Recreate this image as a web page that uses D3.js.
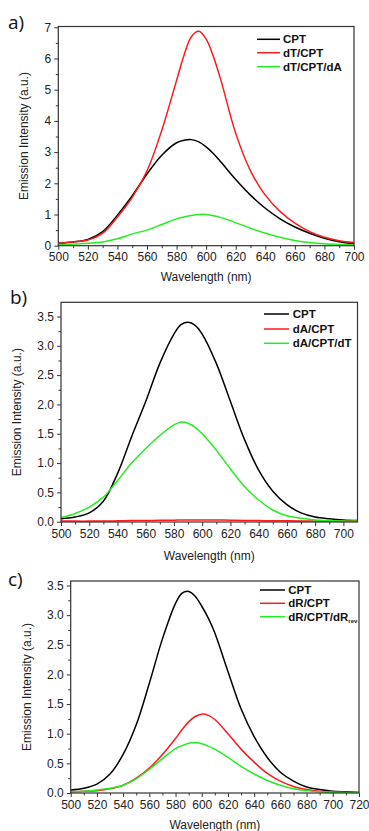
<!DOCTYPE html>
<html><head><meta charset="utf-8">
<script src="https://cdn.jsdelivr.net/npm/d3@7"></script>
<style>body{margin:0;background:#fff}svg{display:block}</style>
</head><body><svg id="c" width="369" height="831"></svg>
<script>
// ---- data (wavelength nm, intensity a.u.) ----
const wlA = [500,510,520,530,540,550,560,570,580,585,590,595,600,605,610,620,630,640,650,660,670,680,690,700];
const aCPT = [0.08,0.12,0.2,0.45,0.98,1.6,2.3,2.9,3.3,3.38,3.4,3.33,3.17,2.95,2.68,2.12,1.62,1.2,0.86,0.6,0.4,0.24,0.13,0.07];
const aDT  = [0.08,0.12,0.18,0.4,0.92,1.55,2.4,3.7,5.3,6.1,6.7,6.87,6.62,6.05,5.3,3.6,2.4,1.62,1.1,0.72,0.45,0.27,0.16,0.1];
const aDTdA= [0.03,0.05,0.08,0.12,0.22,0.38,0.5,0.68,0.86,0.92,0.97,1.0,1.0,0.96,0.9,0.74,0.56,0.4,0.27,0.17,0.1,0.06,0.04,0.03];

const wlB = [500,510,520,530,540,550,560,570,580,585,590,595,600,610,620,630,640,650,660,670,680,690,700,710];
const bCPT = [0.05,0.08,0.15,0.35,0.82,1.45,2.05,2.7,3.2,3.36,3.4,3.35,3.2,2.7,2.05,1.4,0.88,0.52,0.29,0.15,0.08,0.05,0.03,0.02];
const bDA  = [0.01,0.01,0.01,0.012,0.015,0.02,0.02,0.025,0.025,0.03,0.03,0.03,0.03,0.03,0.025,0.022,0.02,0.015,0.015,0.012,0.01,0.01,0.01,0.01];
const bDAdT= [0.07,0.14,0.25,0.42,0.7,1.0,1.25,1.47,1.65,1.7,1.68,1.61,1.5,1.22,0.9,0.6,0.37,0.2,0.1,0.06,0.03,0.02,0.01,0.01];

const wlC = [500,510,520,530,540,550,560,570,580,585,590,595,600,605,610,620,630,640,650,660,670,680,690,700,710,720];
const cCPT = [0.05,0.08,0.15,0.32,0.65,1.15,1.85,2.6,3.2,3.37,3.4,3.32,3.15,2.95,2.7,2.05,1.42,0.95,0.6,0.35,0.2,0.1,0.06,0.03,0.02,0.01];
const cDR  = [0.02,0.03,0.04,0.07,0.13,0.25,0.42,0.65,0.92,1.07,1.2,1.29,1.33,1.31,1.24,1.0,0.74,0.52,0.33,0.2,0.11,0.06,0.03,0.02,0.01,0.01];
const cDRrev=[0.02,0.03,0.05,0.08,0.13,0.24,0.4,0.58,0.75,0.8,0.84,0.85,0.83,0.79,0.74,0.6,0.45,0.32,0.21,0.13,0.07,0.04,0.02,0.01,0.01,0.01];

const xTicksA = [500,520,540,560,580,600,620,640,660,680,700];
const xTicksB = [500,520,540,560,580,600,620,640,660,680,700];
const xTicksC = [500,520,540,560,580,600,620,640,660,680,700,720];
const yTicksA = [0,1,2,3,4,5,6,7];
const yTicksBC = [0,0.5,1,1.5,2,2.5,3,3.5];

const colBlack = "#000000", colRed = "#ff1a1a", colGreen = "#22ee22";

const panels = [
  {label:"a)", lx:8, ly:29, box:[58.3,354,26.5,245.7], xd:[500,700], yd:[0,7.026],
   xt:xTicksA, yt:yTicksA, yfmt:d3.format("d"), ytitleX:24, xtitleY:281,
   wl:wlA, series:[[aCPT,colBlack],[aDT,colRed],[aDTdA,colGreen]],
   leg:{x1:257,x2:280,tx:283,ys:[39.3,52.7,66.7],names:["CPT","dT/CPT","dT/CPT/dA"]}},
  {label:"b)", lx:10, ly:304, box:[61,357.5,302.3,522], xd:[500,710], yd:[-0.005,3.742],
   xt:xTicksB, yt:yTicksBC, yfmt:d3.format(".1f"), ytitleX:17, xtitleY:560,
   wl:wlB, series:[[bCPT,colBlack],[bDA,colRed],[bDAdT,colGreen]],
   leg:{x1:264,x2:289,tx:292.7,ys:[314,329,343.3],names:["CPT","dA/CPT","dA/CPT/dT"]}},
  {label:"c)", lx:8, ly:586, box:[70.7,359,581,793], xd:[500,720], yd:[0,3.576],
   xt:xTicksC, yt:yTicksBC, yfmt:d3.format(".1f"), ytitleX:27, xtitleY:829,
   wl:wlC, series:[[cCPT,colBlack],[cDR,colRed],[cDRrev,colGreen]],
   leg:{x1:260,x2:285,tx:288.3,ys:[590,603.3,616.7],names:["CPT","dR/CPT","dR/CPT/dR"],sub:"rev"}}
];

const svg = d3.select("#c");
const font = "'Liberation Sans', Arial, sans-serif";
const axisCol = "#333";

panels.forEach(p => {
  const [L,R,T,B] = p.box;
  const x = d3.scaleLinear().domain(p.xd).range([L,R]);
  const y = d3.scaleLinear().domain(p.yd).range([B,T]);
  const g = svg.append("g");

  // minor ticks
  const xMinor = d3.range(p.xd[0]+10, p.xd[1]+0.1, 20).filter(v=>v<p.xd[1]);
  const yStep = (p.yt[1]-p.yt[0])/2;
  const yMinor = d3.range(p.yt[0]+yStep, p.yd[1], p.yt[1]-p.yt[0]);
  g.append("g").attr("transform",`translate(0,${B})`)
    .call(d3.axisBottom(x).tickValues(xMinor).tickSize(2.5).tickSizeOuter(0).tickFormat(""))
    .call(s=>{s.select(".domain").remove();s.selectAll("line").attr("stroke",axisCol);});
  g.append("g").attr("transform",`translate(${L},0)`)
    .call(d3.axisLeft(y).tickValues(yMinor).tickSize(2.5).tickSizeOuter(0).tickFormat(""))
    .call(s=>{s.select(".domain").remove();s.selectAll("line").attr("stroke",axisCol);});

  // major axes
  const xa = g.append("g").attr("transform",`translate(0,${B})`)
    .call(d3.axisBottom(x).tickValues(p.xt).tickSize(4).tickPadding(3).tickSizeOuter(0).tickFormat(d3.format("d")));
  const ya = g.append("g").attr("transform",`translate(${L},0)`)
    .call(d3.axisLeft(y).tickValues(p.yt).tickSize(4).tickPadding(3).tickSizeOuter(0).tickFormat(p.yfmt));
  [xa,ya].forEach(a=>{
    a.select(".domain").remove();
    a.selectAll("line").attr("stroke",axisCol);
    a.selectAll("text").attr("fill","#222").style("font-family",font).style("font-size","12px");
  });

  // curves
  const clipId = "clip"+p.label[0];
  svg.append("clipPath").attr("id",clipId).append("rect").attr("x",L).attr("y",T).attr("width",R-L).attr("height",B-T);
  const line = d3.line().x((d,i)=>x(p.wl[i])).y(d=>y(d)).curve(d3.curveCatmullRom.alpha(0.5));
  p.series.forEach(([vals,col])=>{
    g.append("path").attr("d",line(vals)).attr("fill","none").attr("stroke",col)
      .attr("stroke-width",1.5).attr("clip-path",`url(#${clipId})`);
  });

  // frame
  g.append("rect").attr("x",L).attr("y",T).attr("width",R-L).attr("height",B-T)
    .attr("fill","none").attr("stroke",axisCol).attr("stroke-width",1.2);

  // titles
  g.append("text").attr("x",(L+R)/2).attr("y",p.xtitleY).attr("text-anchor","middle")
    .style("font-family",font).style("font-size","12px").attr("fill","#222").text("Wavelength (nm)");
  g.append("text").attr("transform",`translate(${p.ytitleX},${(T+B)/2}) rotate(-90)`)
    .attr("text-anchor","middle").attr("dominant-baseline","central")
    .style("font-family",font).style("font-size","12px").attr("fill","#222").text("Emission Intensity (a.u.)");
  g.append("text").attr("x",p.lx).attr("y",p.ly)
    .style("font-family","'Open Sans', 'DejaVu Sans', sans-serif").style("font-size","19px").attr("fill","#111").text(p.label);

  // legend
  const cols = p.series.map(s=>s[1]);
  p.leg.names.forEach((n,i)=>{
    const yy = p.leg.ys[i];
    g.append("line").attr("x1",p.leg.x1).attr("x2",p.leg.x2).attr("y1",yy).attr("y2",yy)
      .attr("stroke",cols[i]).attr("stroke-width",1.5);
    const t = g.append("text").attr("x",p.leg.tx).attr("y",yy).attr("dominant-baseline","central")
      .style("font-family",font).style("font-size","11.5px").style("font-weight","bold").attr("fill","#111").text(n);
    if (p.leg.sub && i===2) {
      t.append("tspan").attr("dy","4").style("font-size","6px").text(p.leg.sub);
    }
  });
});
</script></body></html>
